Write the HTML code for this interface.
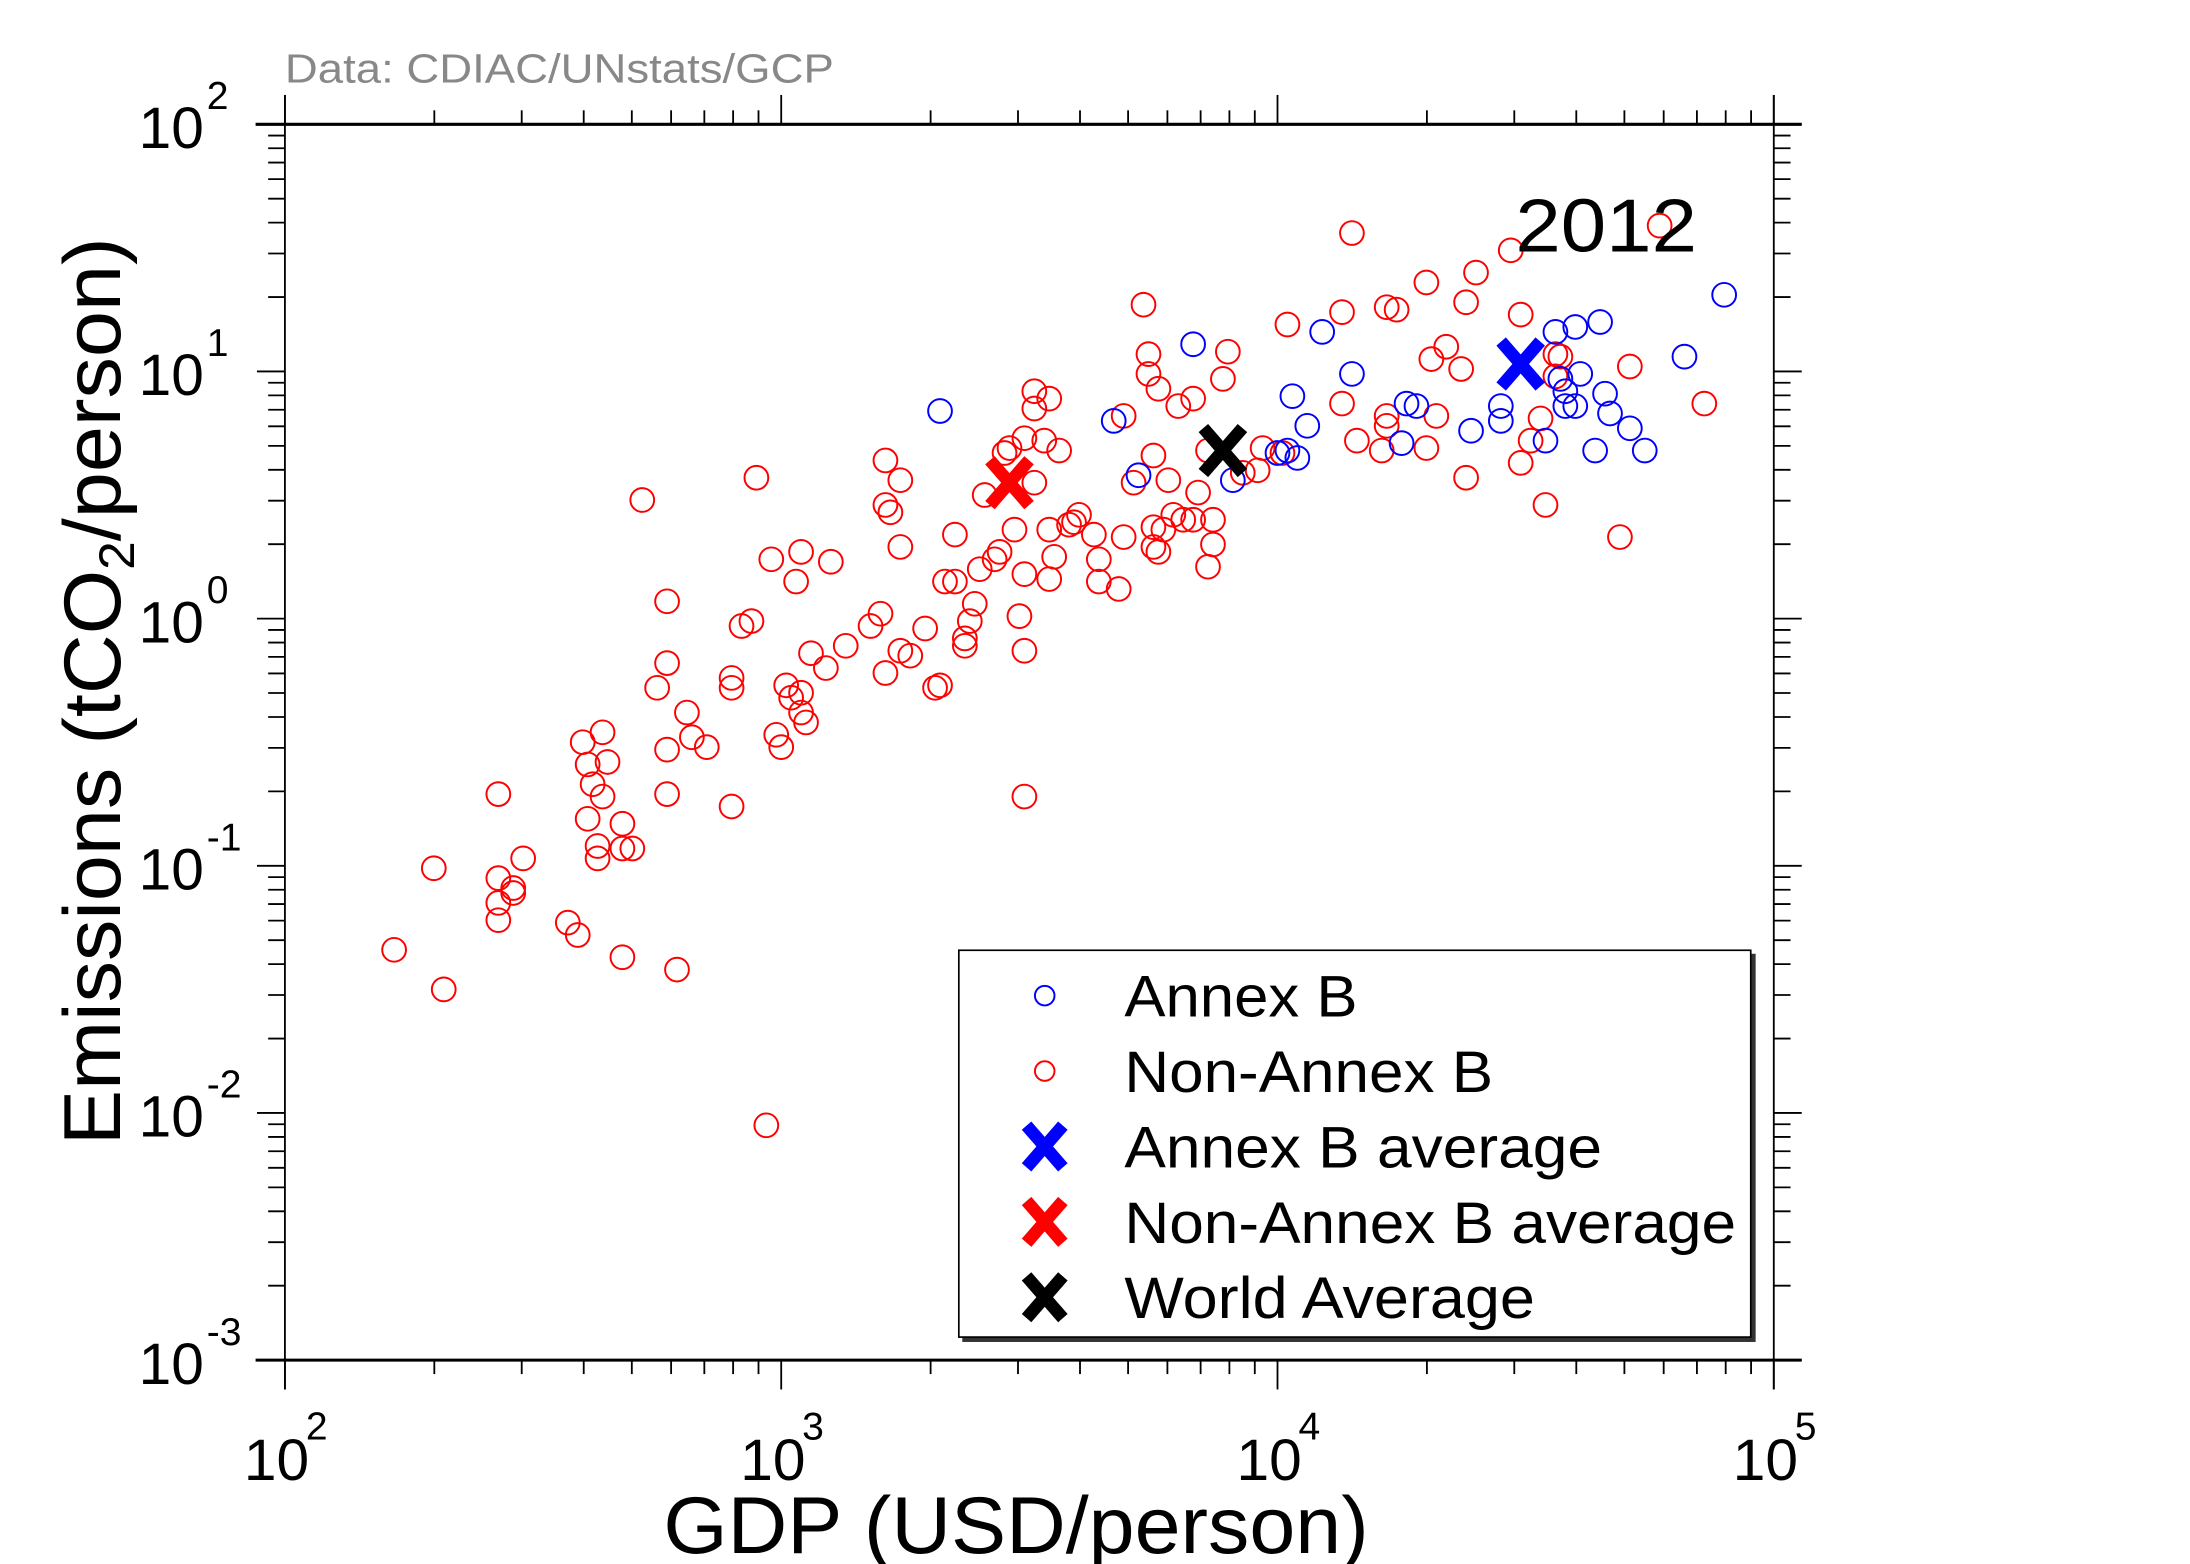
<!DOCTYPE html>
<html><head><meta charset="utf-8"><style>
html,body{margin:0;padding:0;background:#fff;}
svg{display:block;font-family:"Liberation Sans",sans-serif;}
</style></head><body>
<svg id="chart" width="2190" height="1564" viewBox="0 0 1568 1120" preserveAspectRatio="none" xmlns="http://www.w3.org/2000/svg">
<g id="axes"></g>
<g id="points"></g>
<text x="204" y="59" font-size="29" fill="#888" textLength="393" lengthAdjust="spacingAndGlyphs">Data: CDIAC/UNstats/GCP</text>
<text x="1085" y="180" font-size="54" textLength="130" lengthAdjust="spacingAndGlyphs">2012</text>
<text x="475" y="1112" font-size="58" textLength="505" lengthAdjust="spacingAndGlyphs">GDP (USD/person)</text>
<text transform="translate(86,820) rotate(-90)" font-size="58" textLength="650" lengthAdjust="spacingAndGlyphs">Emissions (tCO<tspan font-size="36" dy="10">2</tspan><tspan dy="-10">/person)</tspan></text>
<g id="legend">
<rect x="689" y="683" width="568" height="278" fill="#333"/>
<rect x="686.5" y="680.5" width="567" height="277" fill="#fff" stroke="#000" stroke-width="1.2"/>
</g>
</svg>
<script>
// log10 GDP (USD/person) and log10 emissions (tCO2/person)
const nonAnnexLogGdp = [2.22,2.30,2.32,2.43,2.43,2.43,2.43,2.46,2.46,2.48,2.57,2.59,2.60,2.61,2.61,2.62,2.63,2.63,2.64,2.64,2.65,2.68,2.68,2.70,2.68,2.72,2.75,2.77,2.77,2.77,2.77,2.79,2.81,2.82,2.85,2.90,2.90,2.90,2.92,2.94,2.95,2.97,2.98,2.99,3.00,3.01,3.02,3.03,3.04,3.04,3.04,3.05,3.06,3.09,3.10,3.13,3.18,3.20,3.21,3.21,3.22,3.21,3.24,3.24,3.24,3.26,3.29,3.31,3.32,3.33,3.35,3.35,3.37,3.37,3.38,3.39,3.40,3.41,3.43,3.44,3.45,3.46,3.47,3.48,3.49,3.49,3.49,3.49,3.51,3.51,3.51,3.53,3.54,3.54,3.54,3.55,3.56,3.58,3.59,3.60,3.63,3.64,3.64,3.68,3.69,3.69,3.71,3.73,3.74,3.74,3.75,3.75,3.75,3.76,3.77,3.76,3.78,3.79,3.80,3.81,3.83,3.83,3.84,3.86,3.86,3.87,3.87,3.89,3.90,3.93,3.96,3.97,4.01,4.02,4.13,4.13,4.15,4.16,4.21,4.22,4.22,4.22,4.24,4.30,4.30,4.31,4.32,4.34,4.37,4.38,4.38,4.40,4.47,4.49,4.49,4.51,4.53,4.54,4.56,4.57,4.56,4.69,4.71,4.77,4.86];
const nonAnnexLogEmis = [-1.34,-1.01,-1.50,-0.71,-1.05,-1.15,-1.22,-1.09,-1.11,-0.97,-1.23,-1.28,-0.50,-0.81,-0.59,-0.67,-0.92,-0.97,-0.72,-0.46,-0.58,-0.83,-0.93,-0.93,-1.37,0.48,-0.28,0.07,-0.18,-0.53,-0.71,-1.42,-0.38,-0.48,-0.52,-0.76,-0.24,-0.28,-0.03,-0.01,0.57,-2.05,0.24,-0.47,-0.52,-0.27,-0.32,0.15,-0.30,-0.38,0.27,-0.42,-0.14,-0.20,0.23,-0.11,-0.03,0.02,0.64,0.46,0.43,-0.22,0.56,0.29,-0.13,-0.15,-0.04,-0.28,-0.27,0.15,0.34,0.15,-0.11,-0.08,-0.01,0.06,0.20,0.50,0.24,0.27,0.67,0.69,0.36,0.01,0.73,0.18,-0.13,-0.72,0.55,0.92,0.85,0.72,0.89,0.16,0.36,0.25,0.68,0.38,0.39,0.42,0.34,0.24,0.15,0.12,0.33,0.82,0.55,1.27,1.07,0.99,0.66,0.29,0.37,0.27,0.36,0.93,0.56,0.42,0.86,0.40,0.40,0.89,0.51,0.68,0.21,0.40,0.30,0.97,1.08,0.59,0.60,0.69,0.67,1.19,0.87,1.24,1.56,0.72,0.68,0.82,0.78,1.26,1.25,1.36,0.69,1.05,0.82,1.10,1.01,0.57,1.28,1.40,1.49,1.23,0.63,0.72,0.81,0.46,1.07,1.06,0.98,0.33,1.02,1.59,0.87];
const annexLogGdp = [3.32,3.67,3.72,3.83,3.91,4.00,4.02,4.03,4.04,4.06,4.09,4.15,4.25,4.26,4.28,4.39,4.45,4.45,4.54,4.56,4.57,4.58,4.58,4.60,4.60,4.61,4.64,4.65,4.66,4.67,4.71,4.74,4.82,4.90];
const annexLogEmis = [0.84,0.80,0.58,1.11,0.56,0.67,0.68,0.90,0.65,0.78,1.16,0.99,0.71,0.87,0.86,0.76,0.86,0.80,0.72,1.16,0.97,0.92,0.86,0.86,1.18,0.99,0.68,1.20,0.91,0.83,0.77,0.68,1.06,1.31];
const avgNames = ["Annex B average","Non-Annex B average","World Average"];
const avgLogGdp = [4.49,3.46,3.89];
const avgLogEmis = [1.03,0.55,0.68];
const avgColors = ["#0000ff","#ff0000","#000000"];
const xDecades = [2,3,4,5];
const yDecades = [-3,-2,-1,0,1,2];
const legendLabels = ["Annex B","Non-Annex B","Annex B average","Non-Annex B average","World Average"];
const legendTextWidths = [167,264,342,438,294];

const NS="http://www.w3.org/2000/svg";
const X0=204,X1=1270,Y0=974,Y1=89;
const xs=l=>X0+(l-2)/3*(X1-X0);
const ys=l=>Y0-(l+3)/5*(Y0-Y1);
function mk(tag,attrs,parent){const e=document.createElementNS(NS,tag);for(const k in attrs)e.setAttribute(k,attrs[k]);parent.appendChild(e);return e;}
const axes=document.getElementById('axes');
const pts=document.getElementById('points');

let l;
l=mk('line',{x1:183,x2:1290,y1:Y0,y2:Y0,stroke:'#000','stroke-width':2.2},axes);


l=mk('line',{x1:183,x2:1290,y1:Y1,y2:Y1,stroke:'#000','stroke-width':2.2},axes);


l=mk('line',{x1:X0,x2:X0,y1:68,y2:995,stroke:'#000','stroke-width':1.3},axes);


l=mk('line',{x1:X1,x2:X1,y1:68,y2:995,stroke:'#000','stroke-width':1.3},axes);



xDecades.forEach((d,i)=>{
  const x=xs(d);
  mk('line',{x1:x,x2:x,y1:Y0,y2:995,stroke:'#000','stroke-width':1.3},axes);
  mk('line',{x1:x,x2:x,y1:Y1,y2:68,stroke:'#000','stroke-width':1.3},axes);
  if(i<xDecades.length-1){for(let m=2;m<10;m++){const xm=xs(d+Math.log10(m));
    mk('line',{x1:xm,x2:xm,y1:Y0,y2:984,stroke:'#000','stroke-width':1.3},axes);
    mk('line',{x1:xm,x2:xm,y1:Y1,y2:79,stroke:'#000','stroke-width':1.3},axes);}}
  const t=mk('text',{x:x-6,y:1060,'font-size':42,'text-anchor':'middle'},axes);
  t.textContent='10';
  
  
  const s=mk('text',{x:x+15,y:1031,'font-size':28},axes);
  s.textContent=String(d);
});
yDecades.forEach((d,i)=>{
  const y=ys(d);
  mk('line',{x1:184,x2:X0,y1:y,y2:y,stroke:'#000','stroke-width':1.3},axes);
  mk('line',{x1:X1,x2:1290,y1:y,y2:y,stroke:'#000','stroke-width':1.3},axes);
  if(i<yDecades.length-1){for(let m=2;m<10;m++){const ym=ys(d+Math.log10(m));
    mk('line',{x1:192,x2:X0,y1:ym,y2:ym,stroke:'#000','stroke-width':1.3},axes);
    mk('line',{x1:X1,x2:1282,y1:ym,y2:ym,stroke:'#000','stroke-width':1.3},axes);}}
  const t=mk('text',{x:146,y:y+17,'font-size':42,'text-anchor':'end'},axes);
  t.textContent='10';
  
  
  const s=mk('text',{x:148,y:y-11,'font-size':28},axes);
  s.textContent=(d<0?'-':'')+Math.abs(d);
});

function circle(x,y,color,r,name){
  const c=mk('circle',{cx:x,cy:y,r:r,fill:'none',stroke:color,'stroke-width':1.4},pts);
  
  
}
function cross(x,y,color,h,name,parent){
  const g=mk('g',{stroke:color,'stroke-width':9},parent);
  mk('line',{x1:x-h,y1:y-h*1.15,x2:x+h,y2:y+h*1.15},g);
  mk('line',{x1:x-h,y1:y+h*1.15,x2:x+h,y2:y-h*1.15},g);
  
  
}
nonAnnexLogGdp.forEach((v,i)=>circle(xs(v),ys(nonAnnexLogEmis[i]),'#ff0000',8.5,'non-annex-b-point'));
annexLogGdp.forEach((v,i)=>circle(xs(v),ys(annexLogEmis[i]),'#0000ff',8.5,'annex-b-point'));
avgLogGdp.forEach((v,i)=>cross(xs(v),ys(avgLogEmis[i]),avgColors[i],14,'average-marker',pts));

const leg=document.getElementById('legend');
const legY=[713,767,821,875,929];
legendLabels.forEach((lab,i)=>{
  const y=legY[i];
  if(i<2){const c=mk('circle',{cx:748,cy:y,r:7,fill:'none',stroke:i==0?'#0000ff':'#ff0000','stroke-width':1.4},leg);
    
    }
  else cross(748,y,avgColors[i-2],13,'legend-marker',leg);
  const t=mk('text',{x:805,y:y+15,'font-size':42,textLength:legendTextWidths[i],lengthAdjust:'spacingAndGlyphs'},leg);
  t.textContent=lab;
  
  
});
</script>
</body></html>
